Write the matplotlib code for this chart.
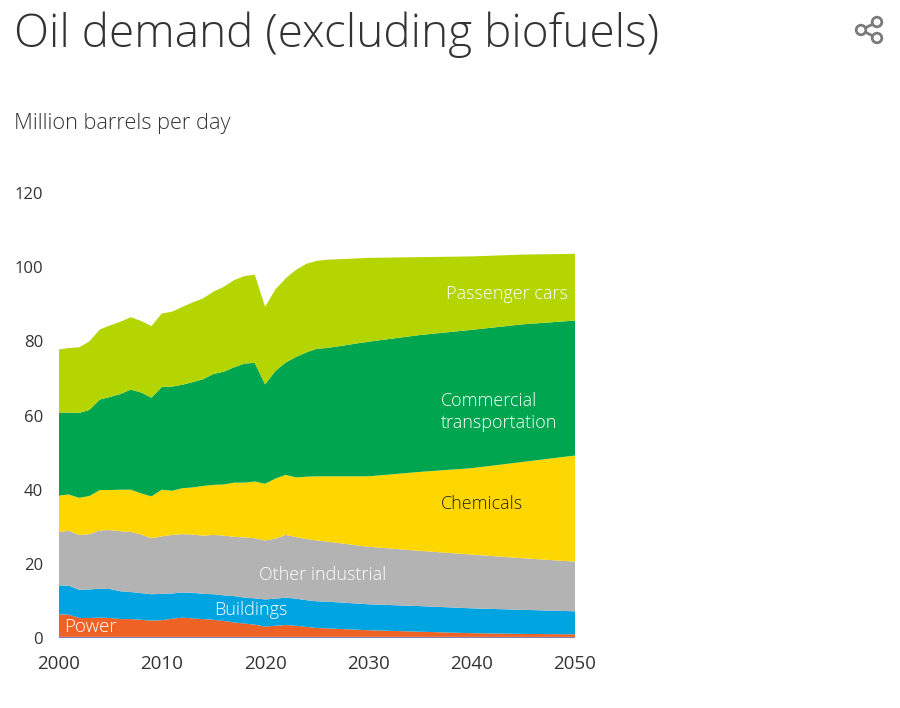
"""Oil demand (excluding biofuels): stacked area by sector, 2000-2050."""

import matplotlib

matplotlib.use("Agg")
import matplotlib.pyplot as plt
import numpy as np
from matplotlib.patches import Circle

# Top edge of each stacked band (million barrels per day).
years = [2000, 2001, 2002, 2003, 2004, 2005, 2006, 2007, 2008, 2009,
         2010, 2011, 2012, 2013, 2014, 2015, 2016, 2017, 2018, 2019,
         2020, 2021, 2022, 2023, 2024, 2025, 2026, 2030, 2035, 2040, 2045, 2050]
base_top = [0.3] * 32
power_top = [6.4, 6.3, 5.4, 5.4, 5.5, 5.4, 5.1, 5.1, 4.9, 4.7,
             4.8, 5.2, 5.5, 5.3, 5.1, 4.9, 4.6, 4.2, 3.9, 3.6,
             3.1, 3.3, 3.5, 3.3, 3.0, 2.7, 2.6, 2.1, 1.7, 1.3, 1.1, 1.0]
buildings_top = [14.2, 14.1, 13.0, 13.1, 13.3, 13.2, 12.6, 12.4, 12.1, 11.8,
                 11.9, 12.0, 12.3, 12.2, 11.9, 11.8, 11.5, 11.3, 10.9, 10.7,
                 10.4, 10.6, 10.9, 10.6, 10.2, 9.9, 9.8, 9.1, 8.6, 8.0, 7.6, 7.2]
industrial_top = [28.6, 28.9, 27.8, 28.0, 29.0, 29.1, 28.8, 28.6, 27.9, 26.9,
                  27.4, 27.8, 28.0, 27.9, 27.6, 27.8, 27.6, 27.3, 27.1, 26.9,
                  26.3, 26.8, 27.8, 27.2, 26.7, 26.3, 26.0, 24.6, 23.5, 22.5, 21.5, 20.6]
chemicals_top = [38.4, 38.7, 37.8, 38.3, 39.9, 39.9, 40.0, 40.0, 39.0, 38.2,
                 40.0, 39.7, 40.4, 40.6, 41.0, 41.3, 41.4, 41.9, 41.9, 42.2,
                 41.6, 43.0, 44.0, 43.3, 43.5, 43.6, 43.6, 43.6, 44.8, 45.8, 47.5, 49.2]
commercial_top = [60.8, 60.8, 60.7, 61.5, 64.3, 65.0, 65.8, 67.0, 66.2, 64.8,
                  67.7, 67.8, 68.3, 69.0, 69.8, 71.2, 71.8, 73.0, 74.0, 74.2,
                  68.4, 72.0, 74.3, 75.8, 77.0, 78.0, 78.2, 79.9, 81.7, 83.1, 84.6, 85.6]
cars_top = [77.8, 78.2, 78.4, 80.0, 83.2, 84.3, 85.3, 86.5, 85.5, 84.1,
            87.5, 88.0, 89.3, 90.5, 91.6, 93.4, 94.7, 96.5, 97.6, 98.0,
            89.3, 94.0, 97.0, 99.3, 100.9, 101.7, 102.0, 102.5, 102.7, 102.9, 103.4, 103.6]

colors = ["#7d7fb5", "#ee6325", "#00a4e1", "#b3b3b3", "#ffd700", "#00a64f", "#b4d500"]
y_ticks = [0, 20, 40, 60, 80, 100, 120]
x_ticks = [2000, 2010, 2020, 2030, 2040, 2050]

W, H = 900, 708
FONT = "Open Sans"
WEIGHT = "light"


def main() -> None:
    plt.rcParams["font.family"] = FONT
    fig = plt.figure(figsize=(W / 100, H / 100), dpi=100, facecolor="white")

    # Axes box placed in pixels: 2000..2050 -> 58.5..575, 0..120 -> 638..193.
    ax = fig.add_axes([58.5 / W, 1 - 638 / H, (575 - 58.5) / W, (638 - 193) / H])
    tops = np.array([base_top, power_top, buildings_top, industrial_top,
                     chemicals_top, commercial_top, cars_top])
    layers = np.diff(tops, axis=0, prepend=0)
    ax.stackplot(years, layers, colors=colors, linewidth=0)

    ax.set_xlim(2000, 2050)
    ax.set_ylim(0, 120)
    ax.set_xticks(x_ticks)
    ax.set_yticks(y_ticks)
    ax.tick_params(length=0, labelcolor="#333333")
    ax.tick_params(axis="x", pad=12, labelsize=13.5)
    ax.tick_params(axis="y", pad=11, labelsize=12)
    for spine in ax.spines.values():
        spine.set_visible(False)

    # Direct labels inside the bands.
    label = dict(fontsize=13, fontweight=WEIGHT, va="center")
    ax.text(2037.5, 92.7, "Passenger cars", color="white", **label)
    ax.text(2037.0, 61.0, "Commercial\ntransportation", color="white", linespacing=1.25, **label)
    ax.text(2037.0, 36.1, "Chemicals", color="#222222", **label)
    ax.text(2019.4, 17.0, "Other industrial", color="white", **label)
    ax.text(2015.1, 7.5, "Buildings", color="white", **label)
    ax.text(2000.5, 3.0, "Power", color="white", fontsize=13.5, fontweight=WEIGHT, va="center")

    fig.text(14 / W, 1 - 35 / H, "Oil demand (excluding biofuels)", fontsize=33,
             fontweight=WEIGHT, color="#333333", va="center")
    fig.text(14 / W, 1 - 123 / H, "Million barrels per day", fontsize=15.7,
             fontweight=WEIGHT, color="#333333", va="center")

    # Share icon, top right, drawn in pixel coordinates.
    overlay = fig.add_axes([0, 0, 1, 1], facecolor="none")
    overlay.set_xlim(0, W)
    overlay.set_ylim(H, 0)
    overlay.axis("off")
    icon = "#7b7b7b"
    nodes = [(861, 30), (877, 22), (877, 38)]
    for x, y in nodes[1:]:
        overlay.plot([nodes[0][0], x], [nodes[0][1], y], color=icon, lw=2)
    for x, y in nodes:
        overlay.add_patch(Circle((x, y), 4.8, fc="white", ec=icon, lw=2, zorder=3))

    fig.savefig("out.png", dpi=100, facecolor="white")
    plt.close(fig)


if __name__ == "__main__":
    main()
